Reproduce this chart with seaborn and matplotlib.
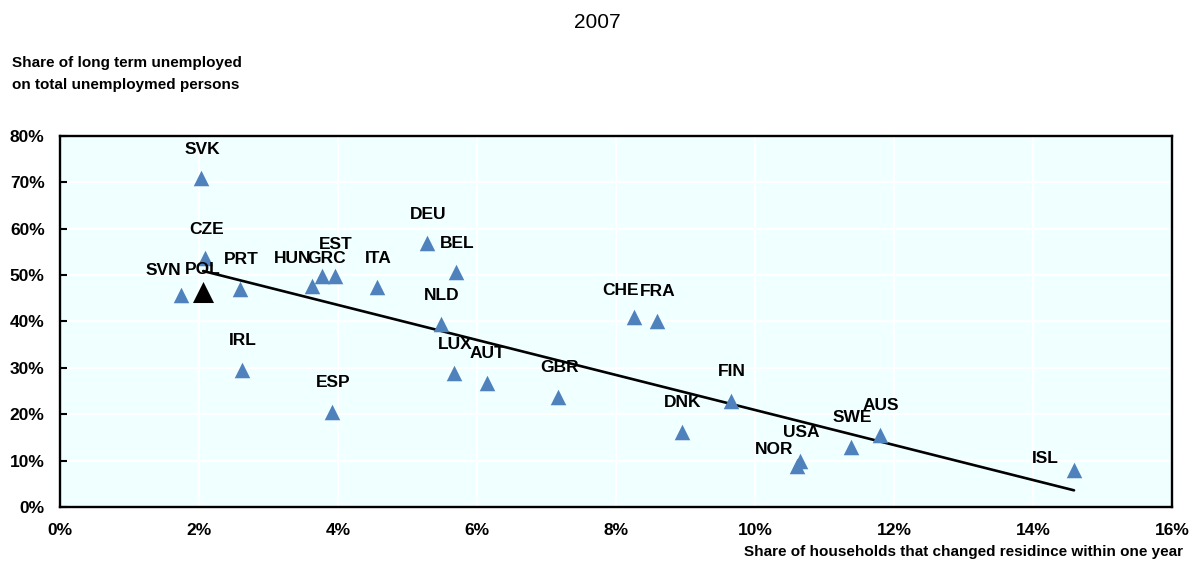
import numpy as np
import pandas as pd
import matplotlib
matplotlib.use("Agg")
import matplotlib.pyplot as plt
import seaborn as sns
from matplotlib.ticker import FuncFormatter, MultipleLocator

# === DATA ===
countries = ["SVK", "CZE", "SVN", "POL", "PRT", "IRL", "HUN", "GRC", "EST", "ITA",
             "ESP", "DEU", "BEL", "NLD", "LUX", "AUT", "GBR", "CHE", "FRA", "FIN",
             "DNK", "USA", "NOR", "SWE", "AUS", "ISL"]
# share of households that changed residence within one year (%)
moved = [2.03, 2.09, 1.74, 2.06, 2.59, 2.62, 3.63, 3.77, 3.96, 4.56,
         3.91, 5.28, 5.70, 5.48, 5.67, 6.14, 7.17, 8.26, 8.59, 9.65,
         8.95, 10.65, 10.60, 11.38, 11.80, 14.59]
# share of long term unemployed on total unemployed persons (%)
long_term = [70.9, 53.6, 45.8, 46.3, 47.1, 29.6, 47.6, 49.9, 49.9, 47.4,
             20.5, 56.9, 50.6, 39.4, 28.8, 26.8, 23.8, 40.9, 40.2, 22.9,
             16.2, 9.9, 8.9, 13.0, 15.6, 8.0]
highlight = "POL"

# === STYLE ===
BLUE = "#4F81BD"
BG = "#F0FFFF"
# label offsets in pixels, default is straight above the marker
label_offsets = {"SVN": (-18, 24), "POL": (0, 23), "HUN": (-20, 28), "GRC": (5, 17),
                 "CHE": (-14, 27), "NOR": (-23, 16), "ISL": (-29, 11), "EST": (1, 31)}

sns.set_style("white")
plt.rcParams["font.family"] = ["Liberation Sans", "DejaVu Sans"]
plt.rcParams["text.color"] = "black"
plt.rcParams["xtick.color"] = "black"
plt.rcParams["ytick.color"] = "black"

df = pd.DataFrame({"country": countries, "moved": moved, "long_term": long_term})
others = df[df["country"] != highlight]
pol = df[df["country"] == highlight]

fig = plt.figure(figsize=(11.89, 5.63), dpi=100)
ax = fig.add_axes([60 / 1189, 56 / 563, 1112 / 1189, 371 / 563])
ax.set_facecolor(BG)

# trend line (OLS fit over all countries)
slope, intercept = np.polyfit(df["moved"], df["long_term"], 1)
tx = np.array([pol["moved"].iloc[0], df["moved"].max()])
sns.lineplot(x=tx, y=slope * tx + intercept, color="black", linewidth=1.9, ax=ax, zorder=3)

sns.scatterplot(data=others, x="moved", y="long_term", marker="^", s=125,
                color=BLUE, linewidth=0, ax=ax, zorder=4)
sns.scatterplot(data=pol, x="moved", y="long_term", marker="^", s=230,
                color="black", linewidth=0, ax=ax, zorder=5)

for _, r in df.iterrows():
    dx, dy = label_offsets.get(r["country"], (1, 29))
    ax.annotate(r["country"], (r["moved"], r["long_term"]), xytext=(dx, dy),
                textcoords="offset pixels", ha="center", va="center",
                fontsize=12.5, fontweight="bold", color="black", zorder=6)

ax.set_xlim(0, 16)
ax.set_ylim(0, 80)
ax.xaxis.set_major_locator(MultipleLocator(2))
ax.yaxis.set_major_locator(MultipleLocator(10))
ax.xaxis.set_major_formatter(FuncFormatter(lambda v, p: f"{v:.0f}%"))
ax.yaxis.set_major_formatter(FuncFormatter(lambda v, p: f"{v:.0f}%"))
ax.grid(True, color="white", linewidth=1.5)
ax.set_axisbelow(True)
for s in ax.spines.values():
    s.set_color("black")
    s.set_linewidth(1.7)
ax.tick_params(axis="x", direction="in", length=5, width=1.5, pad=11.5, labelsize=12.5)
ax.tick_params(axis="y", direction="in", length=5, width=1.5, pad=11, labelsize=12.5,
               left=True)
for lab in ax.get_xticklabels() + ax.get_yticklabels():
    lab.set_fontweight("bold")
ax.set_xlabel("")
ax.set_ylabel("")

fig.text(597 / 1189, 1 - 22 / 563, "2007", ha="center", va="center", fontsize=15)
fig.text(12 / 1189, 1 - 56 / 563, "Share of long term unemployed\non total unemploymed persons",
         ha="left", va="top", fontsize=11, fontweight="bold", linespacing=1.7)
fig.text(1183 / 1189, 1 - 552 / 563, "Share of households that changed residince within one year",
         ha="right", va="center", fontsize=11, fontweight="bold")

fig.savefig("out.png", dpi=100)
